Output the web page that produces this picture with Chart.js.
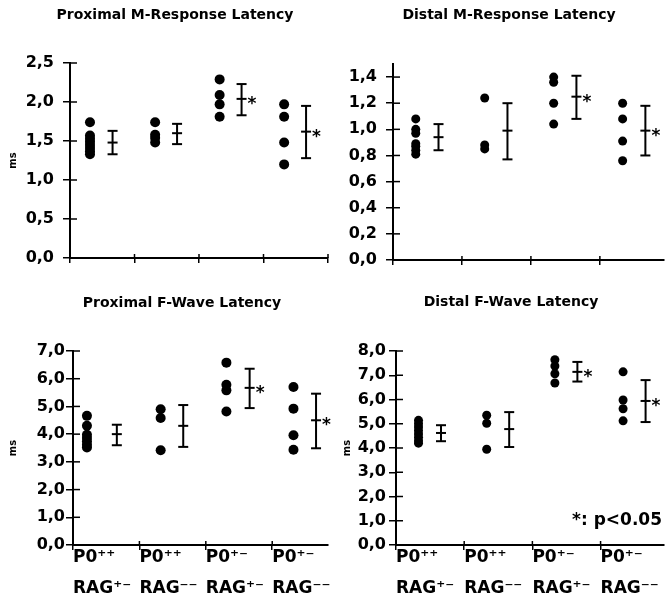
<!DOCTYPE html>
<html>
<head>
<meta charset="utf-8">
<script src="https://cdn.jsdelivr.net/npm/chart.js@4.4.0/dist/chart.umd.min.js"></script>
<style>
    body { margin: 0; background: #fff; width: 671px; height: 601px; position: relative; overflow: hidden; }
    canvas { position: absolute; }
</style>
</head>
<body>
<canvas id="proxM" width="335" height="280" style="left:0;top:0"></canvas>
<canvas id="distM" width="336" height="280" style="left:335px;top:0"></canvas>
<canvas id="proxF" width="335" height="321" style="left:0;top:280px"></canvas>
<canvas id="distF" width="336" height="321" style="left:335px;top:280px"></canvas>
<script>
// group labels on the x axis
const groupLabels = [
    ['P0⁺⁺', 'RAG⁺⁻'],
    ['P0⁺⁺', 'RAG⁻⁻'],
    ['P0⁺⁻', 'RAG⁺⁻'],
    ['P0⁺⁻', 'RAG⁻⁻']
];
const significant = [false, false, true, true];

// Proximal M-Response Latency (ms)
const proxMDots = [
    [1.74, 1.57, 1.53, 1.49, 1.45, 1.41, 1.37, 1.33],
    [1.74, 1.58, 1.54, 1.48],
    [2.29, 2.09, 1.97, 1.81],
    [1.97, 1.81, 1.48, 1.20]
];
const proxMMean = [1.48, 1.60, 2.04, 1.62];
const proxMHi = [1.63, 1.72, 2.23, 1.95];
const proxMLo = [1.33, 1.46, 1.83, 1.28];

// Distal M-Response Latency (ms)
const distMDots = [
    [1.08, 1.00, 0.97, 0.89, 0.87, 0.84, 0.81],
    [1.24, 0.88, 0.85],
    [1.40, 1.36, 1.20, 1.04],
    [1.20, 1.08, 0.91, 0.76]
];
const distMMean = [0.94, 0.99, 1.25, 0.99];
const distMHi = [1.04, 1.20, 1.41, 1.18];
const distMLo = [0.84, 0.77, 1.08, 0.80];

// Proximal F-Wave Latency (ms)
const proxFDots = [
    [4.66, 4.30, 3.98, 3.86, 3.74, 3.62, 3.52],
    [4.90, 4.58, 3.42],
    [6.58, 5.78, 5.58, 4.82],
    [5.70, 4.92, 3.96, 3.44]
];
const proxFMean = [4.00, 4.30, 5.67, 4.50];
const proxFHi = [4.34, 5.05, 6.36, 5.46];
const proxFLo = [3.60, 3.54, 4.94, 3.49];

// Distal F-Wave Latency (ms)
const distFDots = [
    [5.14, 5.00, 4.87, 4.72, 4.58, 4.44, 4.30, 4.20],
    [5.35, 5.02, 3.95],
    [7.64, 7.38, 7.06, 6.68],
    [7.14, 5.98, 5.62, 5.12]
];
const distFMean = [4.62, 4.78, 7.14, 5.94];
const distFHi = [4.94, 5.48, 7.55, 6.80];
const distFLo = [4.28, 4.04, 6.74, 5.07];

Chart.defaults.font.family = '"DejaVu Sans", sans-serif';
Chart.defaults.font.weight = 'bold';
Chart.defaults.color = '#000';

const barPos = 0.66;

function makePanel(id, p) {
    const canvas = document.getElementById(id);
    const dotPoints = [];
    p.dots.forEach(function(vals, g) {
        vals.forEach(function(v) {
            dotPoints.push({ x: g + p.dotPos[g], y: v });
        });
    });
    const barPoints = [];
    p.mean.forEach(function(m, g) {
        const x = g + barPos;
        barPoints.push({ x: x, y: p.lo[g] }, { x: x, y: m }, { x: x, y: p.hi[g] }, { x: x, y: null });
    });

    const extras = {
        id: 'extras',
        afterDraw: function(chart) {
            const ctx = chart.ctx;
            const xs = chart.scales.x;
            const ys = chart.scales.y;
            ctx.save();
            ctx.strokeStyle = '#000';
            ctx.fillStyle = '#000';
            ctx.lineWidth = 1.5;
            // inner half of the tick marks
            ys.ticks.forEach(function(t) {
                const py = ys.getPixelForValue(t.value);
                ctx.beginPath();
                ctx.moveTo(ys.right, py);
                ctx.lineTo(ys.right + 7, py);
                ctx.stroke();
            });
            xs.ticks.forEach(function(t) {
                const px = xs.getPixelForValue(t.value);
                ctx.beginPath();
                ctx.moveTo(px, xs.top);
                ctx.lineTo(px, xs.top - 4);
                ctx.stroke();
            });
            // title
            ctx.font = 'bold 14px "DejaVu Sans"';
            ctx.textAlign = 'center';
            ctx.textBaseline = 'middle';
            ctx.fillText(p.title, p.titleX, p.titleY);
            // significance stars
            ctx.font = 'bold 17px "DejaVu Sans"';
            ctx.textAlign = 'left';
            ctx.textBaseline = 'alphabetic';
            p.mean.forEach(function(m, g) {
                if (!significant[g]) return;
                const px = xs.getPixelForValue(g + barPos);
                const py = ys.getPixelForValue(m);
                ctx.fillText('*', px + 6, py + 10);
            });
            if (p.note) {
                ctx.font = 'bold 17px "DejaVu Sans"';
                ctx.textAlign = 'right';
                ctx.textBaseline = 'middle';
                ctx.fillText(p.note, xs.right - 2, ys.getPixelForValue(1.0));
            }
            ctx.restore();
        }
    };

    return new Chart(canvas, {
        type: 'scatter',
        data: {
            datasets: [
                {
                    data: dotPoints,
                    pointRadius: p.dotRadius,
                    pointBackgroundColor: '#000',
                    pointBorderWidth: 0
                },
                {
                    data: barPoints,
                    showLine: true,
                    spanGaps: false,
                    borderColor: '#000',
                    borderWidth: 2,
                    pointStyle: 'line',
                    pointRadius: 5,
                    pointBorderWidth: 2,
                    pointBorderColor: '#000'
                }
            ]
        },
        options: {
            responsive: false,
            animation: false,
            events: [],
            layout: {
                padding: { top: p.top, right: p.padRight, bottom: 0, left: 0 }
            },
            plugins: {
                legend: { display: false },
                tooltip: { enabled: false }
            },
            scales: {
                x: {
                    type: 'linear',
                    min: 0,
                    max: p.xMax,
                    border: { color: '#000', width: 2 },
                    grid: { drawOnChartArea: false, color: '#000', lineWidth: 1.5, tickLength: 5 },
                    ticks: {
                        display: p.showLabels,
                        stepSize: 1,
                        includeBounds: false,
                        autoSkip: false,
                        maxRotation: 0,
                        align: 'start',
                        padding: -8,
                        font: { size: 17, weight: 'bold', lineHeight: '31px' },
                        callback: function(v) {
                            return (Number.isInteger(v) && v < groupLabels.length) ? groupLabels[v] : '';
                        }
                    },
                    afterFit: function(scale) {
                        scale.height = p.xHeight;
                        scale.paddingLeft = 0;
                        scale.paddingRight = 0;
                    }
                },
                y: {
                    min: 0,
                    max: p.yMax,
                    border: { color: '#000', width: 2 },
                    grid: { drawOnChartArea: false, color: '#000', lineWidth: 1.5, tickLength: 7 },
                    title: {
                        display: p.showMs,
                        text: 'ms',
                        font: { size: 10, weight: 'bold' },
                        padding: { top: p.msPad, bottom: 0 }
                    },
                    ticks: {
                        stepSize: p.yStep,
                        includeBounds: false,
                        padding: p.tickPad,
                        font: { size: 16, weight: 'bold' },
                        callback: function(v) {
                            return v.toFixed(1).replace('.', ',');
                        }
                    },
                    afterFit: function(scale) {
                        scale.width = p.axisX;
                    }
                }
            }
        },
        plugins: [extras]
    });
}

makePanel('proxM', {
    title: 'Proximal M-Response Latency', titleX: 175, titleY: 15,
    dots: proxMDots, mean: proxMMean, hi: proxMHi, lo: proxMLo,
    dotPos: [0.31, 0.32, 0.32, 0.32], dotRadius: 5,
    axisX: 70, top: 63, xHeight: 22, padRight: 5,
    xMax: 4, yMax: 2.5, yStep: 0.5,
    showLabels: false, showMs: true, msPad: 7, tickPad: 9
});

makePanel('distM', {
    title: 'Distal M-Response Latency', titleX: 174, titleY: 15,
    dots: distMDots, mean: distMMean, hi: distMHi, lo: distMLo,
    dotPos: [0.33, 0.33, 0.33, 0.33], dotRadius: 4.5,
    axisX: 58, top: 64, xHeight: 20, padRight: 1,
    xMax: 3.93, yMax: 1.5, yStep: 0.2,
    showLabels: false, showMs: false, msPad: 0, tickPad: 9
});

makePanel('proxF', {
    title: 'Proximal F-Wave Latency', titleX: 182, titleY: 23,
    dots: proxFDots, mean: proxFMean, hi: proxFHi, lo: proxFLo,
    dotPos: [0.21, 0.32, 0.31, 0.32], dotRadius: 5,
    axisX: 73, top: 71, xHeight: 56, padRight: 2,
    xMax: 3.84, yMax: 7, yStep: 1,
    showLabels: true, showMs: true, msPad: 7, tickPad: 1
});

makePanel('distF', {
    title: 'Distal F-Wave Latency', titleX: 176, titleY: 22,
    dots: distFDots, mean: distFMean, hi: distFHi, lo: distFLo,
    dotPos: [0.33, 0.33, 0.33, 0.33], dotRadius: 4.5,
    axisX: 61, top: 71, xHeight: 56, padRight: 1,
    xMax: 3.93, yMax: 8, yStep: 1,
    showLabels: true, showMs: true, msPad: 6, tickPad: 3,
    note: '*: p<0.05'
});
</script>
</body>
</html>
